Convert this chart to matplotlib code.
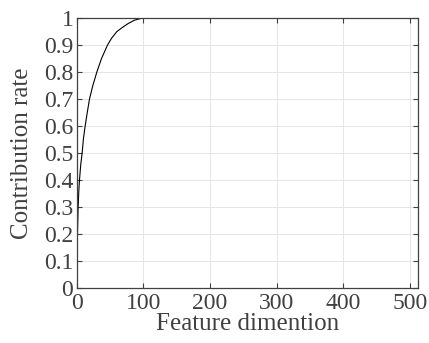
import matplotlib
matplotlib.use("Agg")
import matplotlib.pyplot as plt

# cumulative contribution rate
dims = [1, 2, 3, 4, 6, 8, 10, 12.5, 15, 19, 24, 30, 37, 46, 52, 60, 68, 77, 87, 98, 512]
rate = [0.2, 0.3, 0.36, 0.4, 0.46, 0.5, 0.555, 0.6, 0.64, 0.7, 0.75, 0.8, 0.85, 0.9,
        0.925, 0.95, 0.965, 0.98, 0.993, 1.0, 1.0]

xticks = [0, 100, 200, 300, 400, 500]
yticks = [0, 0.1, 0.2, 0.3, 0.4, 0.5, 0.6, 0.7, 0.8, 0.9, 1]
ylabels = ["0", "0.1", "0.2", "0.3", "0.4", "0.5", "0.6", "0.7", "0.8", "0.9", "1"]

plt.rcParams["font.family"] = ["Liberation Serif", "DejaVu Serif"]
txt = "#404040"

fig = plt.figure(figsize=(4.29, 3.43), dpi=100)
ax = fig.add_axes([0.179, 0.159, 0.795, 0.788])
ax.plot(dims, rate, color="black", lw=0.8)

ax.set_xlim(0, 512)
ax.set_ylim(0, 1)
ax.set_xticks(xticks)
ax.set_yticks(yticks)
ax.set_yticklabels(ylabels)
ax.grid(True, color="#e6e6e6", lw=0.7)
ax.set_axisbelow(True)
ax.tick_params(direction="in", top=True, right=True, length=3.5, width=0.8,
               labelsize=17, colors=txt)
ax.tick_params(axis="x", pad=3)
ax.tick_params(axis="y", pad=2.5)
for s in ax.spines.values():
    s.set_color(txt)
    s.set_linewidth(0.9)

ax.set_xlabel("Feature dimention", fontsize=18, color=txt, labelpad=-0.5)
ax.set_ylabel("Contribution rate", fontsize=18, color=txt, labelpad=8)

fig.savefig("out.png", dpi=100)
